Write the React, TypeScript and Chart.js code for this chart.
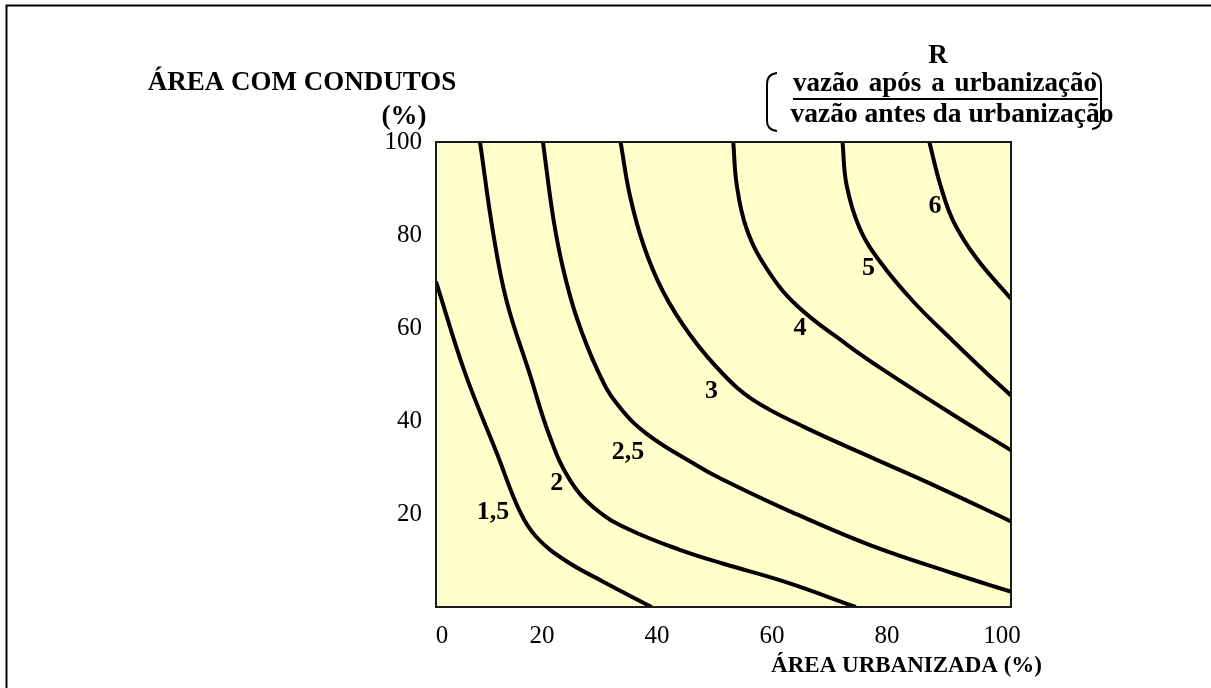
import React, { useEffect, useRef } from "react";
import { Chart, registerables } from "chart.js";
Chart.register(...registerables);

// Tick labels
const xTickValues = [0, 20, 40, 60, 80, 100];
const yTickValues = [20, 40, 60, 80, 100];

// Curves R = 1,5 ... 6  (x: área urbanizada %, y: área com condutos %)
const curve15X = [0, 5, 10.6, 14.6, 17.5, 22.5, 29, 37.5];
const curve15Y = [70, 50.5, 33, 20.5, 15, 10, 5.5, 0];

const curve2X = [7.65, 10, 12.3, 16.2, 19.8, 23.3, 27.9, 33.7, 42.4, 50, 61, 73];
const curve2Y = [100, 80, 65.7, 50.5, 36.6, 27.3, 20.9, 16.6, 12.3, 9.3, 5.3, 0];

const curve25X = [18.6, 20.4, 22.1, 24.5, 28.2, 31.4, 36.6, 45.3, 49.4, 61, 75.5, 90, 100];
const curve25Y = [100, 83.6, 72.8, 62.1, 50.6, 43.8, 37.3, 30.5, 27.7, 20.9, 13.3, 7.2, 3.3];

const curve3X = [32.1, 33.7, 36.1, 39.5, 44.2, 50, 55.2, 63.9, 75.5, 87.1, 100];
const curve3Y = [100, 88.6, 77.8, 67.8, 58.5, 50, 44.5, 38.8, 32.3, 25.9, 18.4];

const curve4X = [51.7, 52.3, 54, 57.5, 62.7, 71.4, 77.8, 90, 100];
const curve4Y = [100, 90.8, 81.4, 72.8, 64.9, 56.5, 51.0, 41.3, 33.7];

const curve5X = [70.7, 71.4, 73.7, 77.2, 83, 90, 95.5, 100];
const curve5Y = [100, 90.8, 81.4, 74.3, 65.7, 57.1, 50.6, 45.5];

const curve6X = [85.8, 87.7, 90, 94, 100];
const curve6Y = [100, 90.8, 82.9, 75, 66.3];

// Curve labels
const labelText = ["1,5", "2", "2,5", "3", "4", "5", "6"];
const labelX = [9.9, 21, 33.4, 47.9, 63.3, 75.2, 86.8];
const labelY = [20.4, 26.7, 33.3, 46.3, 59.9, 72.8, 86.1];

// Titles
const yTitle = "ÁREA COM CONDUTOS";
const yTitleUnit = "(%)";
const xTitle = "ÁREA URBANIZADA (%)";
const rTitle = "R";
const rNumeratorWords = ["vazão", "após", "a", "urbanização"];
const rDenominator = "vazão antes da urbanização";

const SERIF = "'Liberation Serif', 'Times New Roman', serif";

const decor = {
  id: "decor",
  beforeDraw(chart: any) {
    const { ctx, chartArea: a } = chart;
    ctx.save();
    ctx.fillStyle = "#ffffff";
    ctx.fillRect(0, 0, chart.width, chart.height);
    // outer frame (top + left)
    ctx.strokeStyle = "#000";
    ctx.lineWidth = 2;
    ctx.beginPath();
    ctx.moveTo(6.5, chart.height);
    ctx.lineTo(6.5, 5.5);
    ctx.lineTo(chart.width, 5.5);
    ctx.stroke();
    // plot background
    ctx.fillStyle = "#FFFFCC";
    ctx.fillRect(a.left, a.top, a.right - a.left, a.bottom - a.top);
    ctx.restore();
  },
  afterDatasetsDraw(chart: any) {
    const { ctx, chartArea: a, scales } = chart;
    const xs = scales.x;
    const ys = scales.y;
    ctx.save();
    // plot border
    ctx.strokeStyle = "#1a1a1a";
    ctx.lineWidth = 2;
    ctx.strokeRect(a.left, a.top, a.right - a.left, a.bottom - a.top);

    // x tick labels
    ctx.fillStyle = "#000";
    ctx.font = `25px ${SERIF}`;
    ctx.textAlign = "center";
    ctx.textBaseline = "middle";
    xTickValues.forEach((v) => {
      const off = v === 0 ? 6 : -9;
      ctx.fillText(String(v), xs.getPixelForValue(v) + off, a.bottom + 29);
    });

    // curve labels
    ctx.font = `bold 26px ${SERIF}`;
    labelText.forEach((t, i) => {
      ctx.fillText(t, xs.getPixelForValue(labelX[i]), ys.getPixelForValue(labelY[i]));
    });

    // axis titles
    ctx.font = `bold 27px ${SERIF}`;
    ctx.fillText(yTitle, 302, 83);
    ctx.fillText(yTitleUnit, 404, 117);
    ctx.font = `bold 23px ${SERIF}`;
    ctx.textAlign = "right";
    ctx.fillText(xTitle, 1042, 666);

    // R ratio header
    ctx.font = `bold 27px ${SERIF}`;
    ctx.textAlign = "center";
    ctx.fillText(rTitle, 938, 56);
    // numerator: words spread between 793 and 1097
    ctx.textAlign = "left";
    const left = 793;
    const right = 1097;
    const widths = rNumeratorWords.map((w) => ctx.measureText(w).width);
    const total = widths.reduce((s, w) => s + w, 0);
    const gap = (right - left - total) / (rNumeratorWords.length - 1);
    let cx = left;
    rNumeratorWords.forEach((w, i) => {
      ctx.fillText(w, cx, 84);
      cx += widths[i] + gap;
    });
    ctx.font = `bold 27.5px ${SERIF}`;
    ctx.textAlign = "center";
    ctx.fillText(rDenominator, 952, 115);
    ctx.lineWidth = 2;
    ctx.strokeStyle = "#000";
    ctx.beginPath();
    ctx.moveTo(793, 99);
    ctx.lineTo(1098, 99);
    ctx.stroke();
    // brackets
    ctx.beginPath();
    ctx.moveTo(777, 73);
    ctx.quadraticCurveTo(767, 74, 767, 84);
    ctx.lineTo(767, 121);
    ctx.quadraticCurveTo(767, 130, 777, 131);
    ctx.stroke();
    ctx.beginPath();
    ctx.moveTo(1092, 73);
    ctx.quadraticCurveTo(1101, 74, 1101, 84);
    ctx.lineTo(1101, 119);
    ctx.quadraticCurveTo(1101, 128, 1092, 129);
    ctx.stroke();
    ctx.restore();
  },
};

const curves = [
  { x: curve15X, y: curve15Y },
  { x: curve2X, y: curve2Y },
  { x: curve25X, y: curve25Y },
  { x: curve3X, y: curve3Y },
  { x: curve4X, y: curve4Y },
  { x: curve5X, y: curve5Y },
  { x: curve6X, y: curve6Y },
];

export default function App() {
  const ref = useRef<HTMLCanvasElement>(null);
  useEffect(() => {
    const canvas = ref.current!;
    const datasets = curves.map((c) => ({
      data: c.x.map((x, i) => ({ x, y: c.y[i] })),
      borderColor: "#000",
      borderWidth: 4,
      pointRadius: 0,
      tension: 0.4,
      fill: false,
      clip: 0,
    }));
    const chart = new Chart(canvas, {
      type: "line",
      data: { datasets },
      options: {
        responsive: false,
        animation: false,
        devicePixelRatio: 1,
        layout: { padding: { left: 374, right: 200, top: 142, bottom: 61 } },
        plugins: { legend: { display: false }, tooltip: { enabled: false } },
        scales: {
          x: {
            type: "linear",
            min: 0,
            max: 100,
            ticks: { display: false },
            grid: { display: false, drawTicks: false },
            border: { display: false },
            afterFit: (s: any) => {
              s.height = 20;
            },
          },
          y: {
            type: "linear",
            min: 0,
            max: 100,
            ticks: {
              stepSize: 20,
              callback: (v: any) => (yTickValues.includes(Number(v)) ? String(v) : ""),
              font: { family: SERIF, size: 25 },
              color: "#000",
              padding: 14,
            },
            grid: { display: false, drawTicks: false },
            border: { display: false },
            afterFit: (s: any) => {
              s.width = 62;
            },
          },
        },
      } as any,
      plugins: [decor],
    });
    return () => chart.destroy();
  }, []);
  return (
    <div style={{ position: "absolute", left: 0, top: 0, width: 1211, height: 688, background: "#fff" }}>
      <canvas ref={ref} width={1211} height={688} style={{ display: "block" }} />
    </div>
  );
}
